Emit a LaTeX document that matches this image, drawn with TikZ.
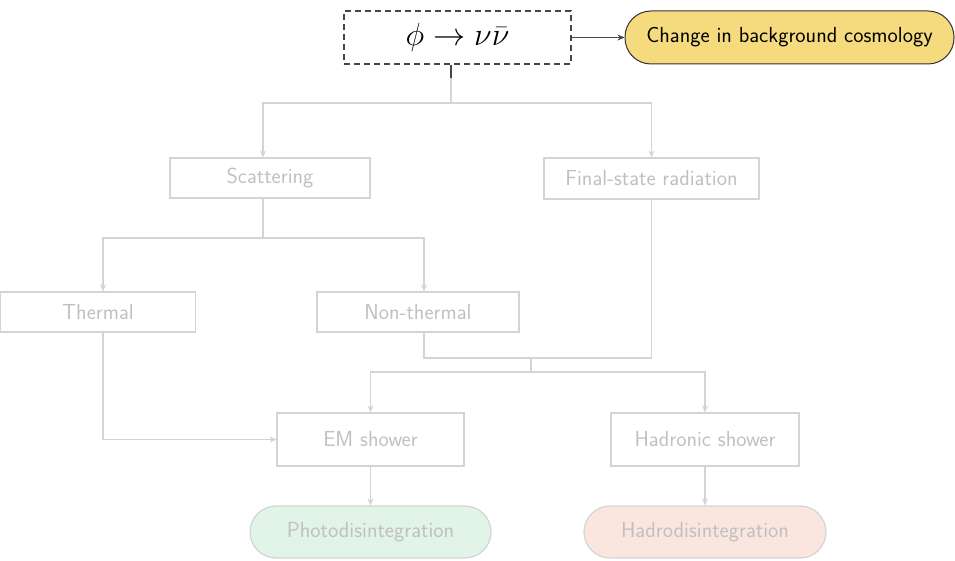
\documentclass[tikz,border=0pt]{standalone}
\usepackage{graphicx}
\usetikzlibrary{arrows.meta}
\definecolor{lineg}{RGB}{212,212,212}
\definecolor{textg}{RGB}{192,192,192}
\definecolor{darkl}{RGB}{70,70,70}
\definecolor{cosmofill}{RGB}{246,218,126}
\definecolor{photofill}{RGB}{226,243,231}
\definecolor{hadrofill}{RGB}{251,229,223}
\begin{document}
\begin{tikzpicture}[x=1pt,y=-1pt,
  every node/.style={inner sep=0pt,align=center,
    font=\sffamily\fontsize{21.8}{26}\selectfont},
  box/.style={draw=lineg,line width=1.2pt,text=textg},
  pill/.style={box,rounded corners=26pt},
  conn/.style={draw=lineg,line width=1.2pt},
  arr/.style={conn,-{Stealth[length=7pt,width=6pt]}},
  darr/.style={draw=darkl,line width=1.2pt,-{Stealth[length=7pt,width=6pt]}}]
\useasboundingbox (0,0) rectangle (955,561);

% decay at the top and its direct consequence
\node[draw=darkl,dash pattern=on 6pt off 4pt,line width=1.1pt,minimum width=227pt,minimum height=53pt,
      font=\fontsize{24.88}{30}\selectfont] (decay) at (457.5,37.5)
      {\scalebox{1.29}{$\phi\to\nu\bar\nu$}};
\node[draw=black!80,fill=cosmofill,line width=1pt,rounded corners=26pt,
      minimum width=329pt,minimum height=53pt,text=black] (cosmo) at (789.5,37.5)
      {Change in background cosmology};

% processing channels
\node[box,minimum width=200pt,minimum height=40pt] (scat) at (270,178) {Scattering};
\node[box,minimum width=215pt,minimum height=41pt] (fsr) at (651.5,178.5) {Final-state radiation};
\node[box,minimum width=195pt,minimum height=40pt] (therm) at (98,312) {Thermal};
\node[box,minimum width=202pt,minimum height=40pt] (nonth) at (418,312) {Non-thermal};
\node[box,minimum width=187pt,minimum height=53pt] (em) at (370.5,439.5) {EM shower};
\node[box,minimum width=188pt,minimum height=53pt] (had) at (705,439.5) {Hadronic shower};
\node[pill,fill=photofill,minimum width=241pt,minimum height=52pt] (photo) at (370.5,532) {Photodisintegration};
\node[pill,fill=hadrofill,minimum width=242pt,minimum height=52pt] (hadro) at (705,532) {Hadrodisintegration};

% junction points of the tree
\coordinate (j1) at (451,103);
\coordinate (j1a) at (451,78);
\coordinate (j2) at (263,238);
\coordinate (j3) at (531,358);
\coordinate (j4) at (531,372);

% connectors
\draw[darr] (decay.east) -- (cosmo.west);
\draw[conn] (j1a) -- (j1);
\draw[draw=darkl,line width=1.2pt] (decay.south -| j1) -- (j1a);
\draw[arr] (j1) -| ([xshift=-7pt]scat.north);
\draw[arr] (j1) -| (fsr.north);
\draw[conn] (scat.south -| j2) -- (j2);
\draw[arr] (j2) -| ([xshift=5pt]therm.north);
\draw[arr] (j2) -| ([xshift=6pt]nonth.north);
\draw[conn] ([xshift=6pt]nonth.south) |- (fsr.south |- j3) -- (fsr.south);
\draw[conn] (j3) -- (j4);
\draw[arr] (j4) -| (em.north);
\draw[arr] (j4) -| (had.north);
\draw[arr] ([xshift=5pt]therm.south) |- (em.west);
\draw[arr] (em.south) -- (photo.north);
\draw[arr] (had.south) -- (hadro.north);
\end{tikzpicture}
\end{document}
